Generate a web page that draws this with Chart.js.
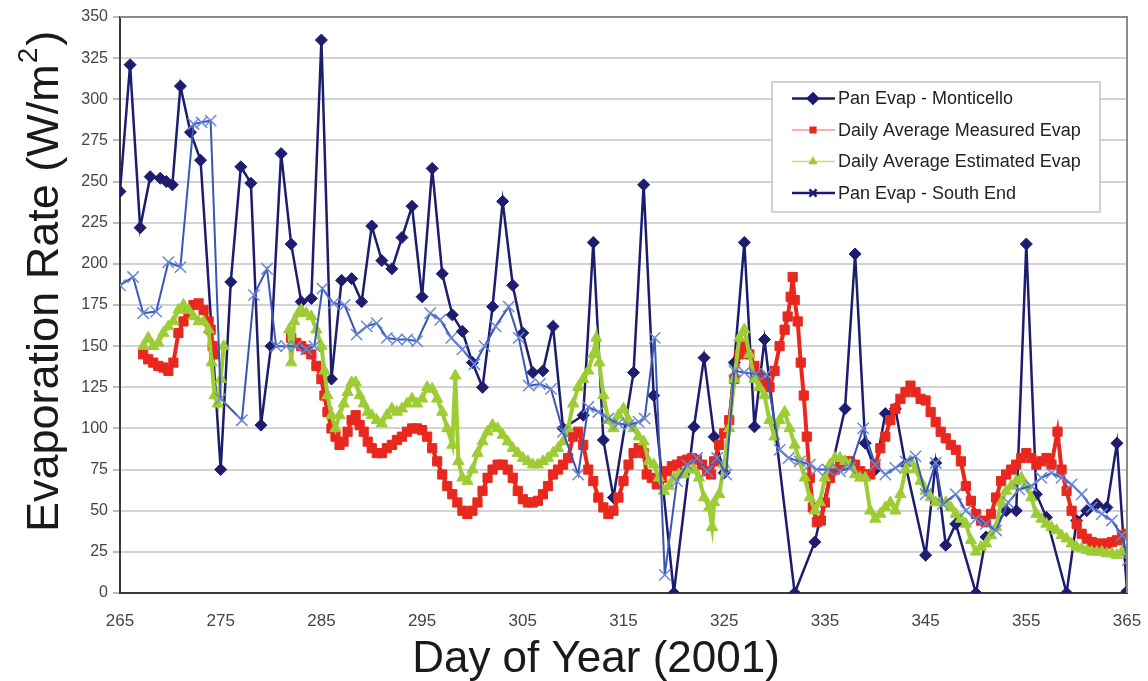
<!DOCTYPE html>
<html>
<head>
<meta charset="utf-8">
<script src="https://cdn.jsdelivr.net/npm/chart.js@4.4.1/dist/chart.umd.min.js"></script>
<style>
  html, body { margin: 0; padding: 0; background: #fff; }
</style>
</head>
<body>
<canvas id="evapChart" width="1148" height="681"></canvas>
<script>
// Pan evaporation, Monticello (daily)
const monticelloDays = [265, 266, 267, 268, 269, 269.6, 270.2, 271, 272, 273,
  275, 276, 277, 278, 279, 280, 281, 282, 283, 284, 285, 286, 287, 288, 289, 290, 291, 292, 293, 294, 295, 296, 297, 298, 299,
  300, 301, 302, 303, 304, 305, 306, 307, 308, 309, 311, 312, 313, 314, 316, 317, 318, 320,
  322, 323, 324, 325, 326, 327, 328, 329, 332, 334, 337, 338, 339, 340, 341, 342, 343,
  345, 346, 347, 348, 350, 351, 353, 354, 355, 356, 357, 359, 360, 361, 362, 363, 364, 365]
const monticelloEvap = [244, 321, 222, 253, 252, 250, 248, 308, 280, 263,
  75, 189, 259, 249, 102, 150, 267, 212, 177, 179, 336, 130, 190, 191, 177, 223, 202, 197, 216, 235, 180, 258, 194, 169, 159,
  140, 125, 174, 238, 187, 158, 134, 135, 162, 100, 108, 213, 93, 58, 134, 248, 120, 0,
  101, 143, 95, 73, 140, 213, 101, 154, 0, 31, 112, 206, 91, 75, 109, 112, 78,
  23, 79, 29, 42, 0, 34, 50, 50, 212, 60, 46, 0, 44, 50, 54, 52, 91, 1]

// Daily average measured evaporation (null = no record)
const measuredDays = [267.3, 267.8, 268.3, 268.8, 269.3, 269.8, 270.3, 270.8, 271.3, 271.8, 272.3, 272.8, 273.3, 273.8, 274.0, 274.2, 274.4,
  278,
  282.0, 282.5, 283.0, 283.5, 284.0, 284.5, 285.0, 285.3, 285.6, 286.0, 286.4, 286.8, 287.2, 287.6, 288.0, 288.4, 288.8, 289.2, 289.6,
  290.0, 290.5, 291.0, 291.5, 292.0, 292.5, 293.0, 293.5, 294.0, 294.5, 295.0, 295.5, 296.0, 296.5, 297.0, 297.5, 298.0, 298.5, 299.0, 299.5,
  300.0, 300.5, 301.0, 301.5, 302.0, 302.5, 303.0, 303.5, 304.0, 304.5, 305.0, 305.5, 306.0, 306.5, 307.0, 307.5, 308.0, 308.5, 309.0, 309.5,
  310.0, 310.5, 311.0, 311.5, 312.0, 312.5, 313.0, 313.5, 314.0, 314.5, 315.0, 315.5, 316.0, 316.5, 317.0, 317.3, 317.8, 318.3, 318.8, 319.3, 319.8,
  320.3, 320.8, 321.3, 321.8, 322.3, 322.8, 323.3, 323.7, 324.0, 324.5, 325.0, 325.5, 326.0, 326.5, 327.0, 327.5, 328.0, 328.5, 329.0, 329.5,
  330.0, 330.5, 331.0, 331.3, 331.6, 331.8, 332.0, 332.3, 332.6, 332.9, 333.2, 333.5, 333.8, 334.2, 334.6, 335.0, 335.5, 336.0, 336.5, 337.0, 337.5,
  338.0, 338.5, 339.0, 339.5, 340.0, 340.5, 341.0, 341.5, 342.0, 342.5, 343.0, 343.5, 344.0, 344.5, 345.0, 345.5, 346.0, 346.5, 347.0, 347.5,
  348.0, 348.5, 349.0, 349.5, 350.0, 350.5, 351.0, 351.5, 352.0, 352.5, 353.0, 353.5, 354.0, 354.5, 355.0, 355.5, 356.0, 356.5, 357.0, 357.5,
  358.1, 358.5, 359.0, 359.5, 360.0, 360.5, 361.0, 361.5, 362.0, 362.5, 363.0, 363.5, 364.0, 364.5, 365.0]
const measuredEvap = [145, 142, 140, 138, 137, 135, 140, 158, 165, 170, 175, 176, 172, 165, 160, 150, 145,
  null,
  155, 152, 150, 148, 145, 138, 130, 120, 110, 100, 95, 90, 92, 98, 105, 108, 102, 98, 92,
  88, 85, 85, 88, 90, 93, 95, 98, 100, 100, 99, 95, 88, 80, 72, 65, 60, 55, 50, 48,
  50, 55, 62, 70, 75, 78, 78, 75, 70, 62, 57, 55, 55, 56, 60, 65, 72, 75, 78, 82,
  95, 98, 90, 75, 68, 58, 52, 48, 50, 58, 68, 78, 85, 88, 85, 72, 70, 66, 70, 74, 77,
  78, 80, 81, 82, 81, 78, 74, 72, 80, 90, 97, 105, 130, 145, 150, 145, 138, 132, 128, 125,
  135, 150, 160, 168, 180, 192, 178, 165, 140, 120, 95, 70, 52, 43, 44, 55, 70, 75, 78, 80, 80,
  78, 74, 72, 72, 78, 88, 95, 105, 112, 118, 122, 126, 122, 118, 117, 110, 104, 98, 94, 90,
  87, 80, 65, 56, 48, 44, 43, 48, 58, 68, 72, 75, 78, 82, 85, 82, 78, 80, 82, 78,
  98, 75, 62, 50, 42, 36, 33, 31, 30, 30, 30, 31, 32, 35, 36]

// Daily average estimated evaporation (null = no record)
const estimatedDays = [267.3, 267.8, 268.3, 268.8, 269.3, 269.8, 270.3, 270.8, 271.3, 271.8, 272.3, 272.8, 273.3, 273.8, 274.1, 274.4, 274.7, 275.0, 275.3,
  278,
  281.8, 282.0, 282.3, 282.7, 283.0, 283.5, 284.0, 284.5, 285.0, 285.3, 285.6, 286.0, 286.4, 286.8, 287.2, 287.6, 288.0, 288.4, 288.8, 289.2, 289.6,
  290.0, 290.5, 291.0, 291.5, 292.0, 292.5, 293.0, 293.5, 294.0, 294.5, 295.0, 295.5, 296.0, 296.5, 297.0, 297.5, 298.0, 298.3, 298.6, 299.0, 299.5,
  300.0, 300.5, 301.0, 301.5, 302.0, 302.5, 303.0, 303.5, 304.0, 304.5, 305.0, 305.5, 306.0, 306.5, 307.0, 307.5, 308.0, 308.5, 309.0, 309.5,
  310.0, 310.5, 311.0, 311.5, 312.0, 312.3, 312.6, 313.0, 313.5, 314.0, 314.5, 315.0, 315.5, 316.0, 316.5, 317.0, 317.5, 318.0, 318.5, 319.0, 319.5,
  320.0, 320.5, 321.0, 321.5, 322.0, 322.5, 323.0, 323.5, 323.8, 324.0, 324.5, 325.0, 325.5, 326.0, 326.5, 327.0, 327.5, 328.0, 328.5, 329.0, 329.5,
  330.0, 330.5, 331.0, 331.5, 332.0, 332.5, 333.0, 333.5, 334.0, 334.5, 335.0, 335.5, 336.0, 336.5, 337.0, 337.5, 338.0, 338.5, 339.0, 339.5,
  340.0, 340.5, 341.0, 341.5, 342.0, 342.5, 343.0, 343.5, 344.0, 344.5, 345.0, 345.5, 346.0, 346.5, 347.0, 347.5, 348.0, 348.5, 349.0, 349.5,
  350.0, 350.5, 351.0, 351.5, 352.0, 352.5, 353.0, 353.5, 354.0, 354.5, 355.0, 355.5, 356.0, 356.5, 357.0, 357.5, 358.0, 358.5, 359.0, 359.5,
  360.0, 360.5, 361.0, 361.5, 362.0, 362.5, 363.0, 363.5, 364.0, 364.5, 365.0]
const estimatedEvap = [150, 155, 150, 152, 158, 162, 165, 172, 175, 172, 168, 165, 165, 160, 140, 120, 115, 130, 150,
  null,
  160, 140, 165, 170, 172, 170, 168, 160, 150, 135, 120, 108, 100, 108, 115, 122, 128, 128, 120, 115, 110,
  108, 105, 103, 108, 112, 110, 112, 115, 118, 115, 118, 125, 124, 118, 110, 100, 90, 132, 80, 70, 68,
  75, 85, 92, 98, 102, 100, 96, 92, 88, 85, 82, 80, 78, 78, 80, 82, 85, 88, 92, 100,
  115, 125, 130, 135, 145, 155, 140, 120, 105, 100, 108, 112, 105, 100, 95, 92, 80, 78, 70, 62, 65,
  70, 72, 72, 75, 75, 70, 58, 52, 40, 55, 60, 78, 100, 130, 155, 160, 145, 130, 125, 120, 105,
  95, 105, 110, 100, 90, 80, 70, 58, 50, 55, 70, 78, 82, 82, 80, 78, 72, 70, 70, 50,
  45, 48, 52, 55, 50, 60, 75, 80, 75, 68, 62, 58, 55, 55, 55, 52, 48, 45, 42, 32,
  25, 28, 30, 35, 40, 55, 62, 65, 68, 70, 65, 58, 48, 45, 42, 40, 38, 35, 33, 30,
  28, 27, 26, 25, 25, 25, 24, 24, 23, 25, 27]

// Pan evaporation, South End
const southEndDays = [265, 266.3, 267.3, 268.6, 269.8, 271, 272.3, 273.1, 274, 275, 277.1, 278.3, 279.6,
  280.5, 281.5, 282.5, 283.5, 284.3, 285.1, 286.2, 287.3, 288.5, 289.5, 290.5, 291.5, 292.5, 293.5, 294.5, 295.8, 296.8, 297.9, 299,
  300.2, 301.2, 302.3, 303.6, 304.6, 305.6, 306.7, 307.8, 309, 310.5, 311.5, 312.5, 313.5, 314.5, 315.5, 316.5, 317.1, 318.1, 319.1,
  320.3, 321.3, 322.3, 323.3, 324.3, 325.2, 326, 327, 328.1, 329.2, 330.5, 331.4, 332.5, 333.5, 334.2, 335.3, 336.5, 337.5, 338.8,
  340, 341, 342, 343, 344, 345, 346, 346.7, 348, 349, 350, 351, 352, 353.2, 354.3, 355.5, 356.5, 357.5, 358.5, 359.5,
  360.5, 361.5, 362.5, 363.5, 364.5, 365.1]
const southEndEvap = [187, 192, 170, 171, 201, 198, 285, 286, 287, 118, 105, 181, 197,
  150, 150, 150, 148, 150, 185, 176, 175, 157, 162, 164, 155, 154, 154, 153, 170, 166, 155, 148,
  139, 150, 162, 174, 155, 126, 127, 124, 98, 72, 113, 110, 106, 103, 102, 104, 106, 155, 11,
  68, 78, 82, 74, 82, 72, 135, 134, 133, 133, 87, 82, 80, 78, 75, 75, 74, 76, 100,
  78, 72, 76, 80, 83, 60, 79, 54, 60, 50, 45, 42, 38, 55, 63, 65, 70, 73, 70, 66,
  60, 52, 48, 44, 35, 20]

const seriesLabels = ["Pan Evap - Monticello", "Daily Average Measured Evap", "Daily Average Estimated Evap", "Pan Evap - South End"]
const dayTicks = [265, 275, 285, 295, 305, 315, 325, 335, 345, 355, 365]

const toPoints = (days, values) => days.map((d, i) => ({ x: d, y: values[i] }))

const FONT = "'Liberation Sans', Arial, sans-serif"
const NAVY = "#1d1c6e"
const RED = "#e8281e"
const GREEN = "#9dcc34"
const BLUE = "#3a56b6"

// frame, axis titles and the boxed legend
const chartDecor = {
  id: "chartDecor",
  afterDatasetsDraw(chart) {
    const ctx = chart.ctx
    const a = chart.chartArea
    ctx.save()
    ctx.strokeStyle = "#8a8a8a"
    ctx.lineWidth = 2
    ctx.beginPath()
    ctx.moveTo(a.left, a.top)
    ctx.lineTo(a.right, a.top)
    ctx.lineTo(a.right, a.bottom)
    ctx.stroke()
    ctx.restore()
  },
  afterDraw(chart) {
    const ctx = chart.ctx
    ctx.save()
    ctx.fillStyle = "#1a1a1a"

    // y title with raised exponent
    ctx.translate(58, 532)
    ctx.rotate(-Math.PI / 2)
    ctx.textBaseline = "alphabetic"
    ctx.textAlign = "left"
    ctx.font = "45px " + FONT
    const main = "Evaporation Rate (W/m"
    const w1 = ctx.measureText(main).width
    ctx.fillText(main, 0, 0)
    ctx.font = "28px " + FONT
    ctx.fillText("2", w1 + 1, -21)
    const w2 = ctx.measureText("2").width
    ctx.font = "45px " + FONT
    ctx.fillText(")", w1 + w2 + 3, 0)
    ctx.setTransform(1, 0, 0, 1, 0, 0)

    // x title
    ctx.textAlign = "center"
    ctx.font = "44px " + FONT
    ctx.fillText("Day of Year (2001)", 596, 672)

    // legend
    const bx = 772, by = 82, bw = 328, bh = 130
    ctx.fillStyle = "#ffffff"
    ctx.fillRect(bx, by, bw, bh)
    ctx.strokeStyle = "#c4c4c4"
    ctx.lineWidth = 1.5
    ctx.strokeRect(bx, by, bw, bh)
    chart.data.datasets.forEach((ds, i) => {
      const cy = by + 16.5 + i * 31.5
      ctx.strokeStyle = ds.legendLine
      ctx.lineWidth = ds.legendLineWidth
      ctx.beginPath()
      ctx.moveTo(792, cy)
      ctx.lineTo(835, cy)
      ctx.stroke()
      ctx.fillStyle = ds.pointBackgroundColor
      ctx.strokeStyle = ds.legendMarker
      Chart.helpers.drawPoint(ctx, {
        pointStyle: ds.pointStyle,
        radius: ds.legendRadius,
        rotation: 0,
        borderWidth: ds.pointBorderWidth
      }, 813, cy)
      ctx.fillStyle = "#222"
      ctx.font = "18px " + FONT
      ctx.textAlign = "left"
      ctx.textBaseline = "middle"
      ctx.fillText(ds.label, 838, cy + 1)
    })
    ctx.restore()
  }
}

new Chart(document.getElementById("evapChart"), {
  type: "line",
  data: {
    datasets: [
      {
        label: seriesLabels[0],
        data: toPoints(monticelloDays, monticelloEvap),
        borderColor: NAVY,
        borderWidth: 2.5,
        pointStyle: "rectRot",
        pointRadius: 6,
        pointBackgroundColor: NAVY,
        pointBorderColor: NAVY,
        pointBorderWidth: 1,
        legendLine: NAVY, legendLineWidth: 2.5, legendMarker: NAVY, legendRadius: 5,
        order: 4
      },
      {
        label: seriesLabels[1],
        data: toPoints(measuredDays, measuredEvap),
        borderColor: RED,
        borderWidth: 4,
        pointStyle: "rect",
        pointRadius: 6.5,
        pointBackgroundColor: RED,
        pointBorderColor: RED,
        pointBorderWidth: 1,
        spanGaps: false,
        legendLine: "#f09a94", legendLineWidth: 1.5, legendMarker: RED, legendRadius: 4,
        order: 3
      },
      {
        label: seriesLabels[2],
        data: toPoints(estimatedDays, estimatedEvap),
        borderColor: GREEN,
        borderWidth: 4,
        pointStyle: "triangle",
        pointRadius: 6.5,
        pointBackgroundColor: GREEN,
        pointBorderColor: GREEN,
        pointBorderWidth: 1,
        spanGaps: false,
        legendLine: "#c6e07e", legendLineWidth: 1.5, legendMarker: GREEN, legendRadius: 4,
        order: 2
      },
      {
        label: seriesLabels[3],
        data: toPoints(southEndDays, southEndEvap),
        borderColor: BLUE,
        borderWidth: 2,
        pointStyle: "crossRot",
        pointRadius: 8,
        pointBackgroundColor: "#6a88d6",
        pointBorderColor: "#6a88d6",
        pointBorderWidth: 1.5,
        legendLine: NAVY, legendLineWidth: 2.5, legendMarker: NAVY, legendRadius: 5,
        order: 1
      }
    ]
  },
  options: {
    responsive: false,
    animation: false,
    devicePixelRatio: 1,
    layout: { padding: { top: 17, right: 21, left: 0, bottom: 0 } },
    plugins: {
      legend: { display: false },
      tooltip: { enabled: false }
    },
    elements: { line: { tension: 0 } },
    scales: {
      x: {
        type: "linear",
        min: 265,
        max: 365,
        afterFit: (scale) => { scale.height = 88 },
        afterBuildTicks: (scale) => { scale.ticks = dayTicks.map(v => ({ value: v })) },
        // invisible tick marks push the labels down without widening the side padding
        grid: { display: true, drawOnChartArea: false, drawTicks: true, tickLength: 18, tickColor: "rgba(0,0,0,0)" },
        border: { display: true, color: "#3a3a3a", width: 2 },
        ticks: {
          color: "#444",
          font: { family: FONT, size: 17 },
          padding: 0,
          maxRotation: 0,
          autoSkip: false
        }
      },
      y: {
        min: 0,
        max: 350,
        afterFit: (scale) => { scale.width = 120 },
        grid: { color: "#d3d3d3", lineWidth: 2, tickLength: 7, tickColor: "#bbb" },
        border: { display: true, color: "#3a3a3a", width: 2 },
        ticks: {
          stepSize: 25,
          color: "#444",
          font: { family: FONT, size: 16 },
          padding: 5
        }
      }
    }
  },
  plugins: [chartDecor]
})
</script>
</body>
</html>
